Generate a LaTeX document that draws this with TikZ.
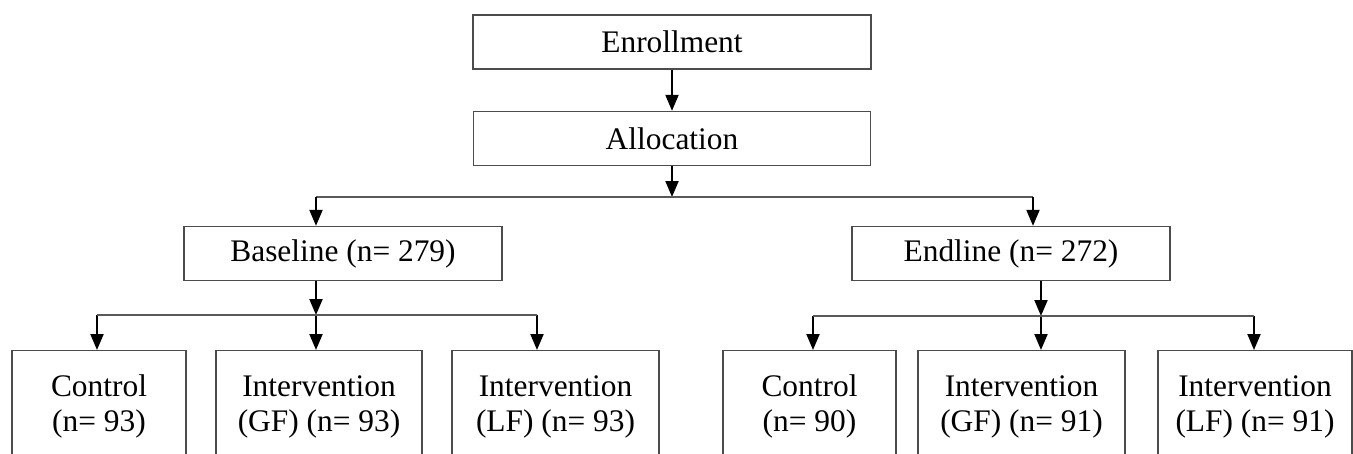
\documentclass[tikz,border=0pt]{standalone}
\usepackage{fontspec}
\setmainfont{Liberation Serif}
\usetikzlibrary{calc}
\usetikzlibrary{arrows.meta}
\tikzset{box/.style={draw=black!70,line width=1.3pt,inner sep=0pt,minimum height=54pt,font=\fontsize{31.4}{35}\selectfont}}
\tikzset{group/.style={box,align=center,anchor=north,minimum height=112pt}}
\tikzset{arr/.style={-{Triangle[length=16pt,width=13pt]},line width=2pt,black}}
\tikzset{link/.style={draw=black!65,line width=1.3pt}}

\begin{document}
\begin{tikzpicture}[x=1pt,y=-1pt]
\useasboundingbox (0,0) rectangle (1353,453);
\clip (0,0) rectangle (1353,453);

\node[box,minimum width=398pt] (enroll) at (672,42) {Enrollment};
\node[box,minimum width=397pt] (alloc) at (672,138.5) {Allocation};
\node[box,minimum width=318pt] (base) at (343,253.5) {Baseline (n= 279)};
\node[box,minimum width=318pt] (endl) at (1011,253.5) {Endline (n= 272)};

\coordinate (j0) at (672,197);
\coordinate (jl) at (316,197);
\coordinate (jr) at (1033,197);
\coordinate (jb) at (316,315);
\coordinate (je) at (1041,316);

\draw[arr] (enroll) -- (alloc);
\draw[arr] (alloc) -- (j0);
\draw[link] (jl) -- (jr);
\draw[arr] (jl) -- (jl |- base.north);
\draw[arr] (jr) -- (jr |- endl.north);
\draw[arr] (jl |- base.south) -- (jb);
\draw[arr] (je |- endl.south) -- (je);

\foreach \nm/\cx/\bw/\ax/\jn/\txt in {
  c1/99/174/97/jb/{Control\\(n= 93)},
  g1/319/206/316/jb/{Intervention\\(GF) (n= 93)},
  l1/555.5/207/537/jb/{Intervention\\(LF) (n= 93)},
  c2/809.5/173/813/je/{Control\\(n= 90)},
  g2/1021.5/207/1041/je/{Intervention\\(GF) (n= 91)},
  l2/1255/194/1254/je/{Intervention\\(LF) (n= 91)}}
  {
 \node[group,minimum width=\bw pt] (\nm) at (\cx,350) {\txt};
 \coordinate (a\nm) at (\ax,0);
 \draw[arr] (a\nm |- \jn) -- (a\nm |- \nm.north);
  }

\draw[link] (ac1 |- jb) -- (al1 |- jb);
\draw[link] (ac2 |- je) -- (al2 |- je);

\end{tikzpicture}
\end{document}
